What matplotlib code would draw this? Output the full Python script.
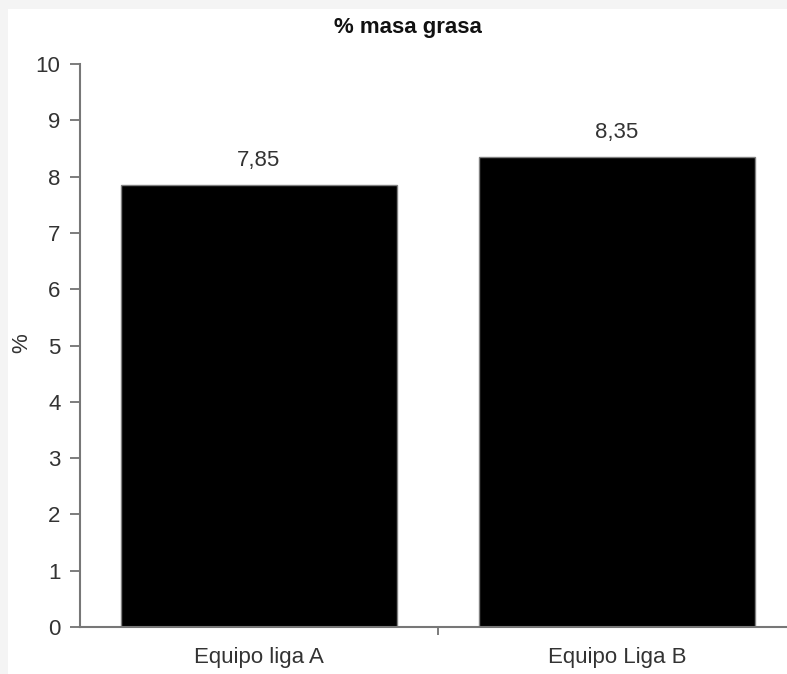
import matplotlib
matplotlib.use("Agg")
import matplotlib.pyplot as plt
from matplotlib.patches import Rectangle

categories = ["Equipo liga A", "Equipo Liga B"]
values = [7.85, 8.35]
value_labels = ["7,85", "8,35"]
yticks = [0, 1, 2, 3, 4, 5, 6, 7, 8, 9, 10]

W, H = 787, 674
FS = 16
TXT = '#333333'
plt.rcParams['font.family'] = ['Liberation Sans', 'DejaVu Sans']
fig = plt.figure(figsize=(W/100, H/100), dpi=100, facecolor='#f4f4f4')
fig.patches.append(Rectangle((8/W, 0), 1, (H-9)/H, transform=fig.transFigure,
                             facecolor='white', edgecolor='none', zorder=-10))

left, right, bottom, top = 80, 796, 627, 64
ax = fig.add_axes([left/W, (H-bottom)/H, (right-left)/W, (bottom-top)/H])
ax.set_zorder(5)
ax.set_facecolor('none')
x = list(range(len(categories)))
ax.bar(x, values, width=0.77, color='black', edgecolor='#808080', linewidth=1)
ax.set_xlim(-0.5, len(categories)-0.5)
ax.set_ylim(0, 10)
ax.set_yticks(yticks)
ax.set_yticklabels([str(t) for t in yticks], fontsize=FS, color=TXT)
ax.set_xticks([0.5])
ax.set_xticklabels([''])
ax.tick_params(axis='y', direction='out', length=7, width=1.2, color='#666666', pad=7)
ax.tick_params(axis='x', direction='out', length=6, width=1.2, color='#666666')
for i, c in enumerate(categories):
    ax.text(i, -0.55, c, ha='center', va='center', fontsize=FS, color=TXT)
for i, (v, lab) in enumerate(zip(values, value_labels)):
    ax.text(i, v + 0.44, lab, ha='center', va='center', fontsize=FS, color=TXT)
for s in ['top', 'right']:
    ax.spines[s].set_visible(False)
for s in ['left', 'bottom']:
    ax.spines[s].set_color('#777777')
    ax.spines[s].set_linewidth(1.5)
fig.text(408/W, 1-27/H, '% masa grasa', ha='center', va='center', fontsize=FS,
         fontweight='bold', color='#111111')
fig.text(22/W, 1-343/H, '%', ha='center', va='center', rotation=90, fontsize=FS,
         color=TXT)
fig.savefig('out.png', dpi=100, facecolor=fig.get_facecolor())
